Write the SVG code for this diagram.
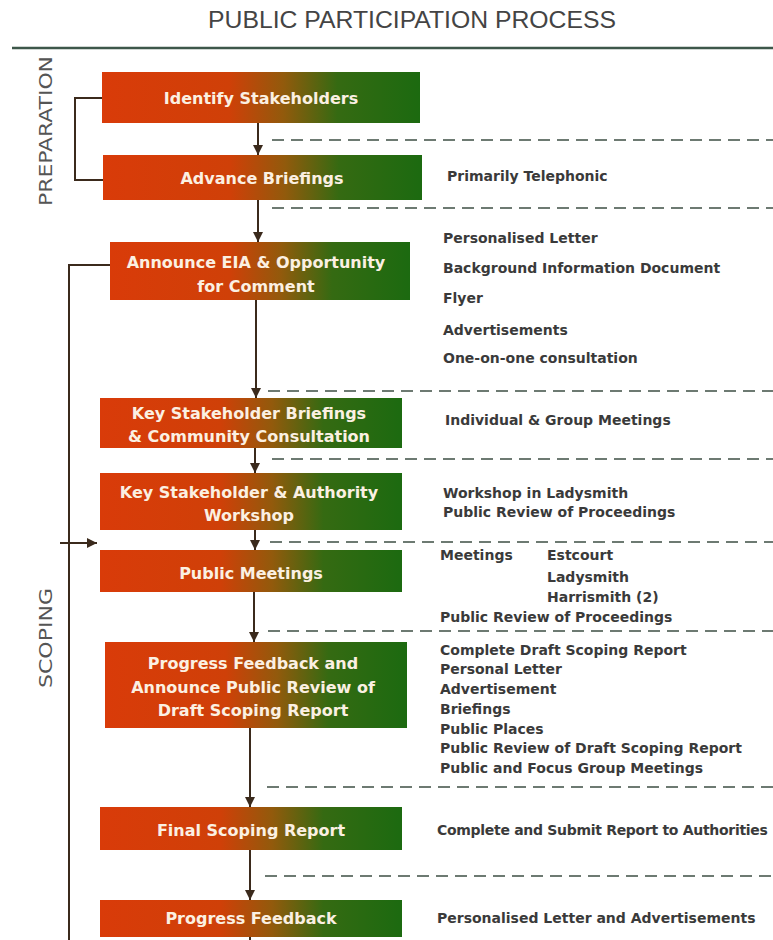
<svg xmlns="http://www.w3.org/2000/svg" width="773" height="940" viewBox="0 0 773 940">
<defs>
<linearGradient id="boxGrad" x1="0" y1="0" x2="1" y2="0">
<stop offset="0" stop-color="#d93b09"/>
<stop offset="0.4" stop-color="#cf4008"/>
<stop offset="0.57" stop-color="#925a0c"/>
<stop offset="0.74" stop-color="#356a12"/>
<stop offset="1" stop-color="#1c6a10"/>
</linearGradient>
<marker id="ah" viewBox="0 0 10 10" refX="10" refY="5" markerWidth="10" markerHeight="10" markerUnits="userSpaceOnUse" orient="auto">
<path d="M0,0 L10,5 L0,10 Z" fill="#3b2a1c"/>
</marker>
<style>
.box{fill:url(#boxGrad);}
.bt{font-family:"DejaVu Sans",Verdana,sans-serif;font-weight:bold;font-size:16px;fill:#fbf0e2;text-anchor:middle;}
.rt{font-family:"DejaVu Sans",Verdana,sans-serif;font-weight:bold;font-size:14px;fill:#3a3a3a;}
.dash{stroke:#6d7a72;stroke-width:2;stroke-dasharray:12 7;fill:none;}
.conn{stroke:#3b2a1c;stroke-width:2;fill:none;}
.phase{font-family:"DejaVu Sans",sans-serif;font-size:18px;fill:#555;text-anchor:middle;}
</style>
</defs>
<rect width="773" height="940" fill="#fff"/>
<text x="412" y="28" font-family="Liberation Sans, Arial, sans-serif" font-size="24" fill="#444" text-anchor="middle" textLength="408" lengthAdjust="spacingAndGlyphs">PUBLIC PARTICIPATION PROCESS</text>
<line x1="12" y1="48" x2="773" y2="48" stroke="#3d574a" stroke-width="2.5"/>
<text class="phase" transform="translate(52,131) rotate(-90)" textLength="150" lengthAdjust="spacingAndGlyphs">PREPARATION</text>
<text class="phase" transform="translate(52,638) rotate(-90)" textLength="100" lengthAdjust="spacingAndGlyphs">SCOPING</text>

<g id="dashes">
<line class="dash" x1="272" y1="140" x2="773" y2="140"/>
<line class="dash" x1="272" y1="208" x2="773" y2="208"/>
<line class="dash" x1="268" y1="391" x2="773" y2="391"/>
<line class="dash" x1="272" y1="459" x2="773" y2="459"/>
<line class="dash" x1="270" y1="542" x2="773" y2="542"/>
<line class="dash" x1="268" y1="631" x2="773" y2="631"/>
<line class="dash" x1="267" y1="787" x2="773" y2="787"/>
<line class="dash" x1="265" y1="876" x2="773" y2="876"/>
</g>

<g id="connectors">
<polyline class="conn" points="102,98 75,98 75,180 103,180"/>
<polyline class="conn" points="110,265 69,265 69,940"/>
<line class="conn" x1="60" y1="543" x2="97" y2="543" marker-end="url(#ah)"/>
<line class="conn" x1="258" y1="123" x2="258" y2="155" marker-end="url(#ah)"/>
<line class="conn" x1="258" y1="200" x2="258" y2="242" marker-end="url(#ah)"/>
<line class="conn" x1="256" y1="300" x2="256" y2="398" marker-end="url(#ah)"/>
<line class="conn" x1="255" y1="448" x2="255" y2="473" marker-end="url(#ah)"/>
<line class="conn" x1="255" y1="530" x2="255" y2="550" marker-end="url(#ah)"/>
<line class="conn" x1="254" y1="592" x2="254" y2="642" marker-end="url(#ah)"/>
<line class="conn" x1="250" y1="728" x2="250" y2="807" marker-end="url(#ah)"/>
<line class="conn" x1="250" y1="850" x2="250" y2="900" marker-end="url(#ah)"/>
<line class="conn" x1="250" y1="937" x2="250" y2="940"/>
</g>

<g id="identify">
<rect class="box" x="102" y="72" width="318" height="51"/>
<text class="bt" x="261" y="104">Identify Stakeholders</text>
</g>
<g id="advance">
<rect class="box" x="103" y="155" width="319" height="45"/>
<text class="bt" x="262" y="184">Advance Briefings</text>
<text class="rt" x="447" y="181">Primarily Telephonic</text>
</g>
<g id="announce">
<rect class="box" x="110" y="242" width="300" height="58"/>
<text class="bt" x="256" y="268">Announce EIA &amp; Opportunity</text>
<text class="bt" x="256" y="292">for Comment</text>
<text class="rt" x="443" y="243">Personalised Letter</text>
<text class="rt" x="443" y="273">Background Information Document</text>
<text class="rt" x="443" y="303">Flyer</text>
<text class="rt" x="443" y="335">Advertisements</text>
<text class="rt" x="443" y="363">One-on-one consultation</text>
</g>
<g id="keybriefings">
<rect class="box" x="100" y="398" width="302" height="50"/>
<text class="bt" x="249" y="419">Key Stakeholder Briefings</text>
<text class="bt" x="249" y="442">&amp; Community Consultation</text>
<text class="rt" x="445" y="425">Individual &amp; Group Meetings</text>
</g>
<g id="workshop">
<rect class="box" x="100" y="473" width="302" height="57"/>
<text class="bt" x="249" y="498">Key Stakeholder &amp; Authority</text>
<text class="bt" x="249" y="521">Workshop</text>
<text class="rt" x="443" y="498">Workshop in Ladysmith</text>
<text class="rt" x="443" y="517">Public Review of Proceedings</text>
</g>
<g id="publicmeetings">
<rect class="box" x="100" y="550" width="302" height="42"/>
<text class="bt" x="251" y="579">Public Meetings</text>
<text class="rt" x="440" y="560">Meetings</text>
<text class="rt" x="547" y="560">Estcourt</text>
<text class="rt" x="547" y="582">Ladysmith</text>
<text class="rt" x="547" y="602">Harrismith (2)</text>
<text class="rt" x="440" y="622">Public Review of Proceedings</text>
</g>
<g id="progressannounce">
<rect class="box" x="105" y="642" width="302" height="86"/>
<text class="bt" x="253" y="669">Progress Feedback and</text>
<text class="bt" x="253" y="693">Announce Public Review of</text>
<text class="bt" x="253" y="716">Draft Scoping Report</text>
<text class="rt" x="440" y="655">Complete Draft Scoping Report</text>
<text class="rt" x="440" y="674">Personal Letter</text>
<text class="rt" x="440" y="694">Advertisement</text>
<text class="rt" x="440" y="714">Briefings</text>
<text class="rt" x="440" y="734">Public Places</text>
<text class="rt" x="440" y="753">Public Review of Draft Scoping Report</text>
<text class="rt" x="440" y="773">Public and Focus Group Meetings</text>
</g>
<g id="finalscoping">
<rect class="box" x="100" y="807" width="302" height="43"/>
<text class="bt" x="251" y="836">Final Scoping Report</text>
<text class="rt" x="437" y="835" font-size="13" letter-spacing="-0.3">Complete and Submit Report to Authorities</text>
</g>
<g id="progressfeedback">
<rect class="box" x="100" y="900" width="302" height="37"/>
<text class="bt" x="251" y="924">Progress Feedback</text>
<text class="rt" x="437" y="923">Personalised Letter and Advertisements</text>
</g>
</svg>
